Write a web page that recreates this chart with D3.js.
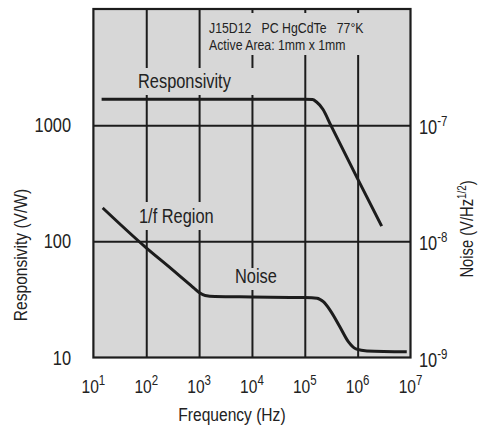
<!DOCTYPE html>
<html>
<head>
<meta charset="utf-8">
<script src="https://cdn.jsdelivr.net/npm/d3@7/dist/d3.min.js"></script>
<style>
  html, body { margin: 0; padding: 0; background: #ffffff; }
  svg { display: block; }
  text { fill: #222; white-space: pre; }
</style>
</head>
<body>
<svg id="chart" width="478" height="427"></svg>
<script>
// ---------------- data ----------------
const respFreq = [14.3, 100, 1000, 1e4, 1e5, 1.4e5, 1.65e5, 2.2e5, 3.1e5, 1e6, 2.85e6];
const respVal  = [1670, 1670, 1670, 1670, 1670, 1660, 1590, 1370, 1000, 345, 135];

const noiseFreq = [15, 100, 300, 800, 1000, 1300, 2000, 1e4, 1e5, 1.7e5, 2.24e5, 3e5, 4.6e5, 6.65e5, 9.5e5, 1.5e6, 8.5e6];
const noiseVal  = [1.94e-8, 8.8e-9, 5.8e-9, 3.95e-9, 3.62e-9, 3.42e-9, 3.35e-9, 3.32e-9, 3.28e-9, 3.24e-9, 3.02e-9, 2.56e-9, 1.84e-9, 1.37e-9, 1.18e-9, 1.14e-9, 1.12e-9];

const xTickValues = [1e1, 1e2, 1e3, 1e4, 1e5, 1e6, 1e7];
const xTickExp    = ["1", "2", "3", "4", "5", "6", "7"];
const yLeftTicks  = [10, 100, 1000];
const yLeftLabels = ["10", "100", "1000"];
const yRightTicks = [1e-9, 1e-8, 1e-7];
const yRightExp   = ["-9", "-8", "-7"];

const infoLines = ["J15D12   PC HgCdTe   77\u00B0K", "Active Area: 1mm x 1mm"];
const xTitle = "Frequency (Hz)";
const yLeftTitle = "Responsivity (V/W)";
const yRightTitle = ["Noise (V/Hz", "1/2", ")"];
const curveLabels = ["Responsivity", "1/f Region", "Noise"];

// ---------------- layout ----------------
const svg = d3.select("#chart");
const L = 93.4, R = 410.5, T = 9, B = 357.5;
const PLOT_BG = "#d7d7d7";
const INK = "#1c1c1c";

const x  = d3.scaleLog().domain([1e1, 1e7]).range([L, R]);
const yR = d3.scaleLog().domain([10, 10000]).range([B, T]);
const yN = d3.scaleLog().domain([1e-9, 1e-6]).range([B, T]);

// font detection: prefer a narrow sans; otherwise condense by scaling
function probe(fam) {
  const t = svg.append("text").style("font-family", fam).style("font-size", "20px").text("Responsivity");
  const w = t.node().getComputedTextLength();
  t.remove();
  return w;
}
const wN = probe("'Liberation Sans Narrow', 'Arial Narrow', sans-serif");
const wA = probe("'Liberation Sans', Arial, sans-serif");
const hasNarrow = wN < wA * 0.9;
const FONT = hasNarrow ? "'Liberation Sans Narrow', 'Arial Narrow', sans-serif" : "'Liberation Sans', Arial, sans-serif";
const SX = hasNarrow ? 1 : 0.82;

function label(px, py, anchor, size, rot) {
  const g = svg.append("g").attr("transform", `translate(${px},${py})${rot ? " rotate(" + rot + ")" : ""} scale(${SX},1)`);
  return g.append("text").attr("text-anchor", anchor).style("font-family", FONT).style("font-size", size + "px");
}

// plot background
svg.append("rect").attr("x", L).attr("y", T).attr("width", R - L).attr("height", B - T).attr("fill", PLOT_BG);

// gridlines via axes
const gx = svg.append("g").attr("transform", `translate(0,${B})`)
  .call(d3.axisBottom(x).tickValues(xTickValues.slice(1, -1)).tickSize(-(B - T)).tickFormat(""));
gx.select(".domain").remove();
gx.selectAll(".tick line").attr("stroke", INK).attr("stroke-width", 2);

const gy = svg.append("g").attr("transform", `translate(${L},0)`)
  .call(d3.axisLeft(yR).tickValues(yLeftTicks.slice(1)).tickSize(-(R - L)).tickFormat(""));
gy.select(".domain").remove();
gy.selectAll(".tick line").attr("stroke", INK).attr("stroke-width", 2);

// knock-out boxes behind in-plot text
const boxes = [
  [204, 13, 166, 42],   // info text
  [134, 68, 128, 27],   // Responsivity
  [134, 202, 84, 28],   // 1/f Region
  [231, 268, 50, 22]    // Noise
];
svg.selectAll("rect.ko").data(boxes).enter().append("rect")
  .attr("class", "ko")
  .attr("x", d => d[0]).attr("y", d => d[1]).attr("width", d => d[2]).attr("height", d => d[3])
  .attr("fill", PLOT_BG);

// curves
const respLine = d3.line().x(d => x(d[0])).y(d => yR(d[1])).curve(d3.curveMonotoneX);
const noiseLine = d3.line().x(d => x(d[0])).y(d => yN(d[1])).curve(d3.curveMonotoneX);

svg.append("path").datum(respFreq.map((f, i) => [f, respVal[i]]))
  .attr("d", respLine).attr("fill", "none").attr("stroke", INK).attr("stroke-width", 3);
svg.append("path").datum(noiseFreq.map((f, i) => [f, noiseVal[i]]))
  .attr("d", noiseLine).attr("fill", "none").attr("stroke", INK).attr("stroke-width", 3);

// frame
svg.append("rect").attr("x", L).attr("y", T).attr("width", R - L).attr("height", B - T)
  .attr("fill", "none").attr("stroke", INK).attr("stroke-width", 2.2);

// in-plot text
label(209, 33, "start", 15).text(infoLines[0]);
label(209, 50, "start", 15).text(infoLines[1]);
label(138, 88, "start", 20).text(curveLabels[0]);
label(139, 223, "start", 20).text(curveLabels[1]);
label(235, 283, "start", 20).text(curveLabels[2]);

// x tick labels
xTickValues.forEach((v, i) => {
  const t = label(x(v), 393, "middle", 19);
  t.append("tspan").text("10");
  t.append("tspan").attr("dy", -8).style("font-size", "14px").text(xTickExp[i]);
});

// left tick labels
yLeftTicks.forEach((v, i) => {
  label(71, yR(v) + 7, "end", 20).text(yLeftLabels[i]);
});

// right tick labels
yRightTicks.forEach((v, i) => {
  const t = label(419, yN(v) + 9, "start", 20);
  t.append("tspan").text("10");
  t.append("tspan").attr("dy", -8).style("font-size", "14px").text(yRightExp[i]);
});

// axis titles
label((L + R) / 2 - 20, 421, "middle", 19).text(xTitle);
label(27, 255, "middle", 19, -90).text(yLeftTitle);
const nt = label(473, 229, "middle", 18, -90);
nt.append("tspan").text(yRightTitle[0]);
nt.append("tspan").attr("dy", -7).style("font-size", "12px").text(yRightTitle[1]);
nt.append("tspan").attr("dy", 7).text(yRightTitle[2]);
</script>
</body>
</html>
